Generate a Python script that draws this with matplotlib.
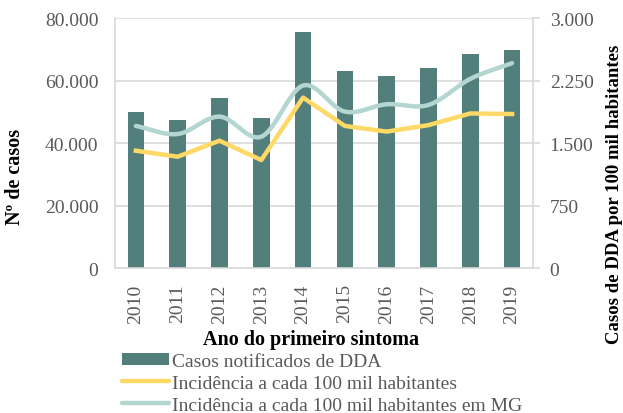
import numpy as np
import matplotlib
matplotlib.use('Agg')
import matplotlib.pyplot as plt
from matplotlib.patches import Patch
from matplotlib.lines import Line2D

anos = ['2010', '2011', '2012', '2013', '2014', '2015', '2016', '2017', '2018', '2019']
casos = [49800, 47400, 54500, 47900, 75600, 62900, 61400, 64000, 68600, 69700]
incidencia = [1408, 1336, 1528, 1296, 2045, 1705, 1637, 1715, 1855, 1848]
incidencia_mg = [1705, 1608, 1817, 1576, 2190, 1877, 1965, 1957, 2270, 2459]

cor_barra = '#527E7B'
cor_amarelo = '#FFD966'
cor_verde = '#B3D6D0'
cinza = '#595959'
grade = '#D9D9D9'

plt.rcParams['font.family'] = ['Liberation Serif', 'DejaVu Serif']


def suavizar(x, y, n=30):
    # curva suave tipo Excel (Catmull-Rom) passando pelos pontos
    x = np.asarray(x, float)
    y = np.asarray(y, float)
    px = np.concatenate([[2 * x[0] - x[1]], x, [2 * x[-1] - x[-2]]])
    py = np.concatenate([[2 * y[0] - y[1]], y, [2 * y[-1] - y[-2]]])
    xs, ys = [], []
    t = np.linspace(0, 1, n)
    for i in range(1, len(px) - 2):
        for p, out in ((px, xs), (py, ys)):
            p0, p1, p2, p3 = p[i - 1], p[i], p[i + 1], p[i + 2]
            out.extend(0.5 * (2 * p1 + (-p0 + p2) * t
                              + (2 * p0 - 5 * p1 + 4 * p2 - p3) * t ** 2
                              + (-p0 + 3 * p1 - 3 * p2 + p3) * t ** 3))
    return xs, ys


fig = plt.figure(figsize=(6.23, 4.14), dpi=100)
ax = fig.add_axes([0.1846, 0.3502, 0.6709, 0.6038])
ax2 = ax.twinx()

x = np.arange(len(anos))
ax.bar(x, casos, width=0.4, color=cor_barra, zorder=2)
ax.set_ylim(0, 80000)
ax.set_xlim(-0.5, len(anos) - 0.5)
ax.set_yticks([0, 20000, 40000, 60000, 80000])
ax.set_yticklabels(['0', '20.000', '40.000', '60.000', '80.000'])
ax.set_xticks(x)
ax.set_xticklabels(anos, rotation=90)
ax.yaxis.grid(True, color=grade, linewidth=1.2, zorder=0)
ax.set_axisbelow(True)
ax.tick_params(axis='y', length=0, labelsize=14, colors=cinza, pad=12)
ax.tick_params(axis='x', length=0, labelsize=14, colors=cinza, pad=11)
for s in ['top', 'right']:
    ax.spines[s].set_visible(False)
for s in ['left', 'bottom']:
    ax.spines[s].set_color(grade)
    ax.spines[s].set_linewidth(1.2)
ax.set_ylabel('Nº de casos', fontsize=14.5, fontweight='bold')
ax.yaxis.set_label_coords(-0.215, 0.37)
ax.set_xlabel('Ano do primeiro sintoma', fontsize=14.5, fontweight='bold')
ax.xaxis.set_label_coords(0.47, -0.245)

ax2.plot(x, incidencia, color=cor_amarelo, linewidth=3.2, solid_joinstyle='round', zorder=3)
sx, sy = suavizar(x, incidencia_mg)
ax2.plot(sx, sy, color=cor_verde, linewidth=3.2, solid_capstyle='round', zorder=3)
ax2.set_ylim(0, 3000)
ax2.set_yticks([0, 750, 1500, 2250, 3000])
ax2.set_yticklabels(['0', '750', '1.500', '2.250', '3.000'])
ax2.tick_params(axis='y', length=5, width=1.2, labelsize=14, colors=cinza, pad=7)
ax2.tick_params(axis='y', color=grade)
for s in ['top', 'left', 'bottom']:
    ax2.spines[s].set_visible(False)
ax2.spines['right'].set_color(grade)
ax2.spines['right'].set_linewidth(1.2)
ax2.set_ylabel('Casos de DDA por 100 mil habitantes', fontsize=13.5, fontweight='bold')
ax2.yaxis.set_label_coords(1.175, 0.30)

handles = [
    Patch(facecolor=cor_barra, edgecolor='none'),
    Line2D([], [], color=cor_amarelo, linewidth=3.2, solid_capstyle='round'),
    Line2D([], [], color=cor_verde, linewidth=3.2, solid_capstyle='round'),
]
labels = ['Casos notificados de DDA',
          'Incidência a cada 100 mil habitantes',
          'Incidência a cada 100 mil habitantes em MG']
leg = fig.legend(handles, labels, loc='upper left', bbox_to_anchor=(0.196, 0.145),
                 frameon=False, fontsize=14, handlelength=2.4, handleheight=0.6,
                 handletextpad=0.15, labelspacing=0.25, borderpad=0, borderaxespad=0)
for t in leg.get_texts():
    t.set_color(cinza)

fig.savefig('out.png', dpi=100)
